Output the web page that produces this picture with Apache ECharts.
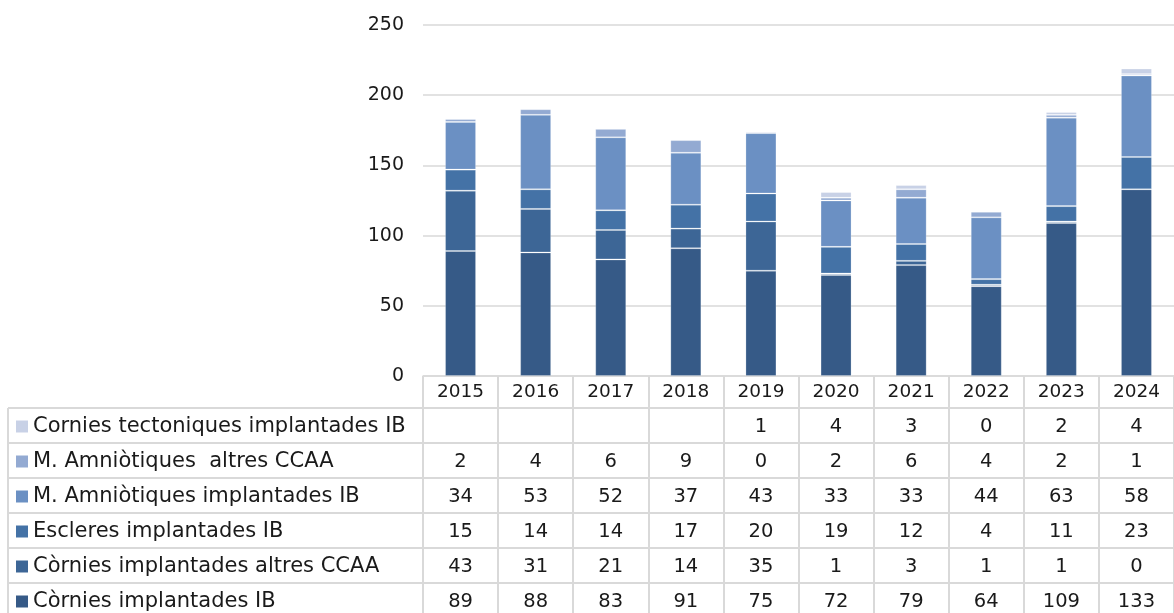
<!DOCTYPE html>
<html>
<head>
<meta charset="UTF-8">
<title>Implants</title>
<script src="https://cdn.jsdelivr.net/npm/echarts@6/dist/echarts.min.js"></script>
<style>
  html, body { margin: 0; padding: 0; background: #fff; }
  #main { width: 1174px; height: 613px; }
</style>
</head>
<body>
<div id="main"></div>
<script>
// categories
const years = ['2015', '2016', '2017', '2018', '2019', '2020', '2021', '2022', '2023', '2024'];

// series values (stack order: bottom to top)
const corniesIB        = [89, 88, 83, 91, 75, 72, 79, 64, 109, 133];
const corniesAltres    = [43, 31, 21, 14, 35, 1, 3, 1, 1, 0];
const escleresIB       = [15, 14, 14, 17, 20, 19, 12, 4, 11, 23];
const amnioIB          = [34, 53, 52, 37, 43, 33, 33, 44, 63, 58];
const amnioAltres      = [2, 4, 6, 9, 0, 2, 6, 4, 2, 1];
const corniesTect      = [null, null, null, null, 1, 4, 3, 0, 2, 4];

const seriesNames = [
  'Còrnies implantades IB',
  'Còrnies implantades altres CCAA',
  'Escleres implantades IB',
  'M. Amniòtiques implantades IB',
  'M. Amniòtiques  altres CCAA',
  'Cornies tectoniques implantades IB'
];
const seriesValues = [corniesIB, corniesAltres, escleresIB, amnioIB, amnioAltres, corniesTect];
const seriesColors = ['#365A87', '#3D6696', '#4472A6', '#6B90C3', '#93AAD2', '#C8D1E6'];

const FONT = "'DejaVu Sans', sans-serif";
const TXT = '#1a1a1a';
const LINE = '#D9D9D9';

const chart = echarts.init(document.getElementById('main'));

const gridLeft = 423, gridTop = 25, gridBottom = 237, gridWidth = 755;

chart.setOption({
  animation: false,
  textStyle: { fontFamily: FONT },
  grid: { left: gridLeft, top: gridTop, width: gridWidth, bottom: gridBottom },
  xAxis: {
    type: 'category',
    data: years,
    axisLine: { lineStyle: { color: LINE, width: 1.5 } },
    axisTick: { show: true, alignWithLabel: false, length: 240, lineStyle: { color: LINE, width: 2 } },
    axisLabel: { color: TXT, fontSize: 18.5, fontFamily: FONT, margin: 7 }
  },
  yAxis: {
    type: 'value',
    min: 0, max: 250, interval: 50,
    axisLine: { show: false },
    axisTick: { show: false },
    axisLabel: { color: TXT, fontSize: 19, fontFamily: FONT, margin: 19 },
    splitLine: { lineStyle: { color: LINE, width: 1.5 } }
  },
  series: seriesNames.map((name, i) => ({
    name: name,
    type: 'bar',
    stack: 'total',
    barWidth: 31,
    data: seriesValues[i],
    itemStyle: { color: seriesColors[i], borderColor: 'rgba(255,255,255,0.22)', borderWidth: 1 }
  }))
});

// data table drawn under the plot
const rowTop = 408, rowH = 35, tableLeft = 8, tableRight = 1180;
const elements = [];
for (let r = 0; r <= 6; r++) {
  const y = rowTop + r * rowH;
  elements.push({ type: 'line', shape: { x1: tableLeft, y1: y, x2: tableRight, y2: y }, style: { stroke: LINE, lineWidth: 2 }, silent: true });
}
elements.push({ type: 'line', shape: { x1: tableLeft, y1: rowTop, x2: tableLeft, y2: 620 }, style: { stroke: LINE, lineWidth: 2 }, silent: true });

for (let r = 0; r < 6; r++) {
  const s = 5 - r;
  const cy = rowTop + r * rowH + rowH / 2 + 1;
  elements.push({ type: 'rect', shape: { x: 16, y: cy - 6, width: 12, height: 12 }, style: { fill: seriesColors[s] }, silent: true });
  elements.push({
    type: 'text', x: 33, y: cy,
    style: { text: seriesNames[s], fill: TXT, font: '21px ' + FONT, textVerticalAlign: 'middle', textAlign: 'left' },
    silent: true
  });
  years.forEach((yr, c) => {
    const v = seriesValues[s][c];
    if (v === null) return;
    const cx = chart.convertToPixel({ xAxisIndex: 0 }, yr);
    elements.push({
      type: 'text', x: cx, y: cy,
      style: { text: String(v), fill: TXT, font: '19.5px ' + FONT, textVerticalAlign: 'middle', textAlign: 'center' },
      silent: true
    });
  });
}
chart.setOption({ graphic: { elements: elements } });
</script>
</body>
</html>
